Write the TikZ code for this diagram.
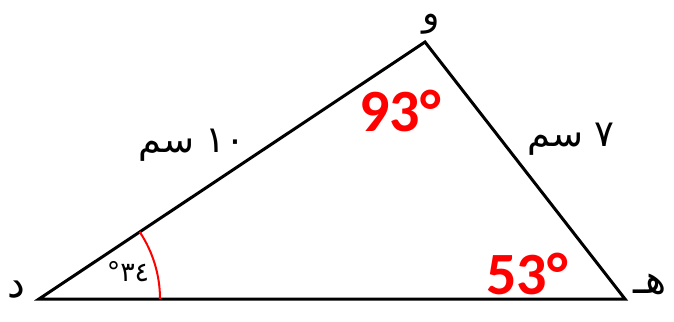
\documentclass[tikz,border=0pt]{standalone}
\usepackage{fontspec}
\TeXXeTstate=1
\newfontfamily\arabicfont[Script=Arabic]{DejaVu Sans}
\newfontfamily\calib{Carlito}
\begin{document}
\begin{tikzpicture}[x=1pt,y=-1pt,
  side/.style={line width=3pt,line join=miter},
  angarc/.style={red,line width=2pt},
  redang/.style={text=red,font=\calib\bfseries\fontsize{60}{60}\selectfont,inner sep=0pt},
  arlbl/.style={font=\arabicfont\fontsize{37}{37}\selectfont,inner sep=0pt},
  vlbl/.style={font=\arabicfont\fontsize{40}{40}\selectfont,inner sep=0pt,text height=0.45em,text depth=0.25em}]
\useasboundingbox (0,0) rectangle (674,321);
\coordinate (D) at (39,299);
\coordinate (W) at (425,42);
\coordinate (H) at (625,299);
\draw[side] (D) -- (W) -- (H) -- cycle;
\draw[angarc] ([xshift=121pt]D) arc[start angle=0,end angle=33.7,radius=121pt];
\node[vlbl] (ld) at (16,296) {\beginR د\endR};
\node[vlbl,font=\arabicfont\fontsize{36}{36}\selectfont] (lw) at (431,25) {\beginR و\endR};
\node[vlbl] (lh) at (650,292) {\beginR هـ\endR};
\node[arlbl] (s10) at (192,145) {\beginR\beginL١٠\endL{} سم\endR};
\node[arlbl] (s7) at (571,139) {\beginR\beginL٧\endL{} سم\endR};
\node[arlbl,font=\arabicfont\fontsize{27}{27}\selectfont] (a34) at (128,272) {\beginR ٣٤°\endR};
\node[redang] (a93) at (400,111) {93°};
\node[redang] (a53) at (527,274) {53°};
\end{tikzpicture}
\end{document}
